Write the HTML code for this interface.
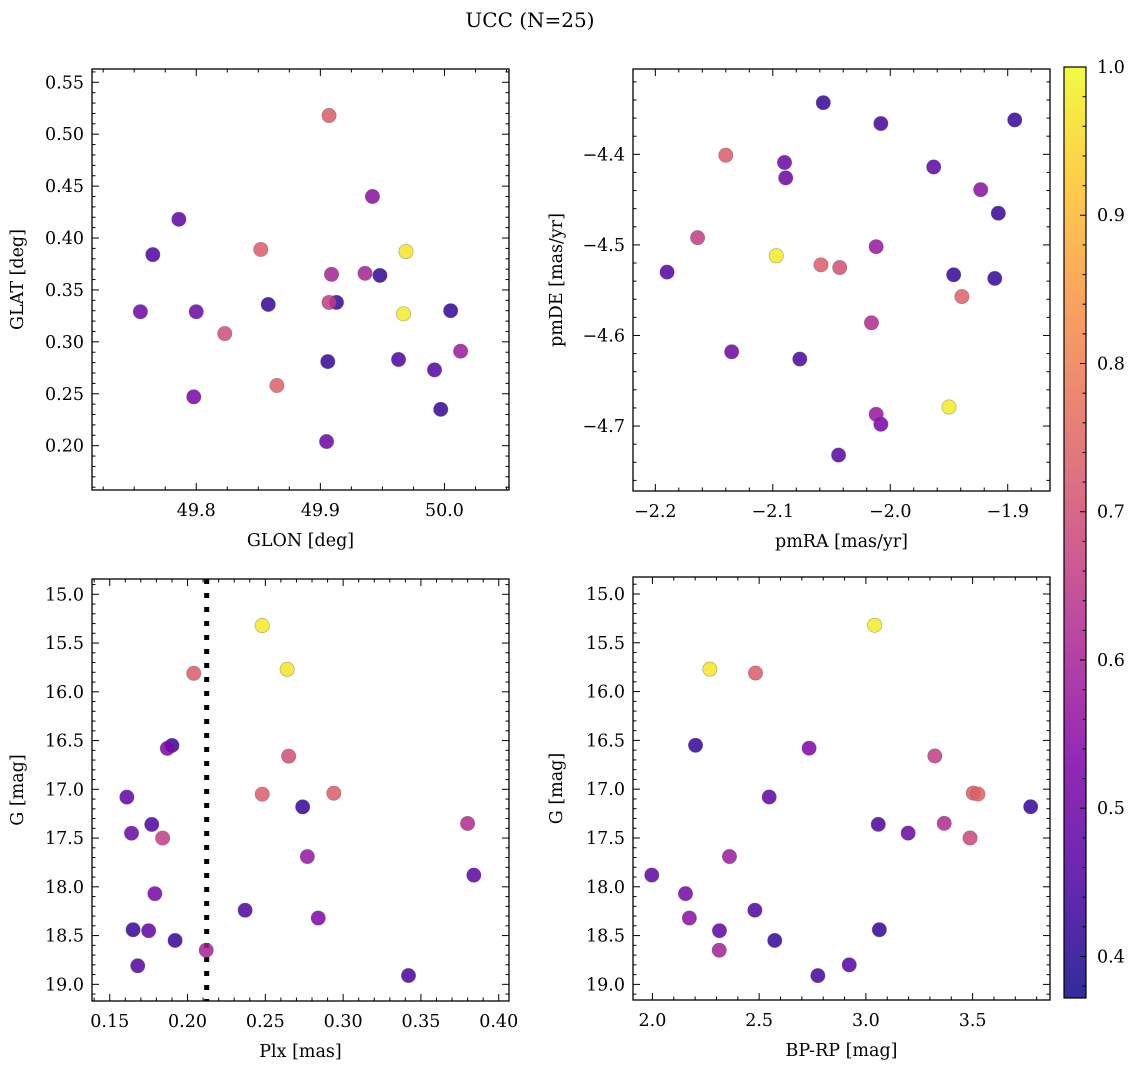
<!DOCTYPE html>
<html><head><meta charset="utf-8"><style>
html,body{margin:0;padding:0;background:#fff;}
svg text{font-family:"DejaVu Serif","Liberation Serif",serif;fill:#000;}
</style></head><body>
<svg id="fig" width="1136" height="1067" viewBox="0 0 1136 1067" xmlns="http://www.w3.org/2000/svg">
<defs>
<linearGradient id="plasma" x1="0" y1="1" x2="0" y2="0">
<stop offset="0" stop-color="#0d0887"/><stop offset="0.125" stop-color="#4c02a1"/><stop offset="0.25" stop-color="#7e03a8"/><stop offset="0.375" stop-color="#a92395"/><stop offset="0.5" stop-color="#cc4778"/><stop offset="0.625" stop-color="#e56b5d"/><stop offset="0.75" stop-color="#f89441"/><stop offset="0.875" stop-color="#fdc328"/><stop offset="1" stop-color="#f0f921"/>
</linearGradient>
</defs>
<text x="530" y="27" font-size="20" text-anchor="middle">UCC (N=25)</text>
</svg>
<script>
// membership probability (colour) per point
const probTL = [0.50,0.45,0.48,0.50,0.52,0.70,0.73,0.42,0.74,0.73,0.50,0.42,0.66,0.60,0.42,0.60,0.55,0.42,0.45,0.98,0.97,0.46,0.42,0.42,0.58];
const glon = [49.755,49.765,49.786,49.800,49.798,49.823,49.852,49.858,49.865,49.907,49.905,49.906,49.907,49.909,49.913,49.936,49.942,49.948,49.963,49.967,49.969,49.992,49.997,50.005,50.013];
const glat = [0.329,0.384,0.418,0.329,0.247,0.308,0.389,0.336,0.258,0.518,0.204,0.281,0.338,0.365,0.338,0.366,0.440,0.364,0.283,0.327,0.387,0.273,0.235,0.330,0.291];

const probTR = [0.46,0.66,0.73,0.98,0.50,0.50,0.50,0.45,0.42,0.73,0.70,0.47,0.62,0.57,0.57,0.52,0.44,0.48,0.98,0.42,0.74,0.55,0.42,0.42,0.42];
const pmra = [-2.190,-2.164,-2.140,-2.097,-2.090,-2.089,-2.135,-2.077,-2.057,-2.059,-2.043,-2.044,-2.016,-2.012,-2.012,-2.008,-2.008,-1.963,-1.950,-1.946,-1.939,-1.923,-1.911,-1.908,-1.894];
const pmde = [-4.530,-4.492,-4.401,-4.512,-4.409,-4.426,-4.618,-4.626,-4.343,-4.522,-4.525,-4.732,-4.586,-4.502,-4.687,-4.698,-4.366,-4.414,-4.679,-4.533,-4.557,-4.439,-4.537,-4.465,-4.362];

const probBL = [0.48,0.50,0.42,0.46,0.48,0.45,0.52,0.66,0.53,0.42,0.42,0.73,0.60,0.45,0.98,0.73,0.97,0.70,0.42,0.57,0.53,0.73,0.44,0.62,0.48];
const plx = [0.161,0.164,0.165,0.168,0.175,0.177,0.179,0.184,0.187,0.190,0.192,0.204,0.212,0.237,0.248,0.248,0.264,0.265,0.274,0.277,0.284,0.294,0.342,0.380,0.384];
const gBL = [17.08,17.45,18.44,18.81,18.45,17.36,18.07,17.50,16.58,16.55,18.55,15.81,18.65,18.24,15.32,17.05,15.77,16.66,17.18,17.69,18.32,17.04,18.91,17.35,17.88];

const probBR = [0.48,0.52,0.55,0.42,0.97,0.48,0.60,0.58,0.73,0.45,0.48,0.42,0.53,0.44,0.46,0.98,0.45,0.42,0.50,0.66,0.62,0.68,0.73,0.74,0.42];
const bprp = [1.997,2.155,2.173,2.202,2.269,2.314,2.313,2.361,2.483,2.480,2.547,2.573,2.734,2.775,2.922,3.041,3.058,3.063,3.198,3.323,3.367,3.488,3.503,3.525,3.772];
const gBR = [17.88,18.07,18.32,16.55,15.77,18.45,18.65,17.69,15.81,18.24,17.08,18.55,16.58,18.91,18.80,15.32,17.36,18.44,17.45,16.66,17.35,17.50,17.04,17.05,17.18];

const plxCut = [0.2123];
const cbarTicks = [0.4,0.5,0.6,0.7,0.8,0.9,1.0];

const NS='http://www.w3.org/2000/svg';
const svg=document.getElementById('fig');
function el(tag,attrs,parent){const e=document.createElementNS(NS,tag);for(const k in attrs)e.setAttribute(k,attrs[k]);(parent||svg).appendChild(e);return e;}
const stops=[[13,8,135],[76,2,161],[126,3,168],[169,35,149],[204,71,120],[229,107,93],[248,148,65],[253,195,40],[240,249,33]];
const vmin=0.372,vmax=1.0;
function plasma(v){let t=(v-vmin)/(vmax-vmin);t=Math.max(0,Math.min(1,t));const s=t*8;const i=Math.min(7,Math.floor(s));const f=s-i;const a=stops[i],b=stops[i+1];return 'rgb('+[0,1,2].map(k=>Math.round(a[k]+(b[k]-a[k])*f)).join(',')+')';}
function fmt(v,d){const s=Math.abs(v).toFixed(d);return (v<-1e-9?'\u2212':'')+s;}
const TFS=17.5, LFS=17.5;

function panel(o){
  const g=el('g',{});
  
  
  const X=v=>o.L+(v-o.xl[0])/(o.xl[1]-o.xl[0])*(o.R-o.L);
  const Y=o.yinv?(v=>o.T+(v-o.yl[0])/(o.yl[1]-o.yl[0])*(o.B-o.T)):(v=>o.B-(v-o.yl[0])/(o.yl[1]-o.yl[0])*(o.B-o.T));
  const tg=el('g',{stroke:'#000','stroke-width':1},g);
  
  
  const lo=Math.min(o.xl[0],o.xl[1]),hi=Math.max(o.xl[0],o.xl[1]);
  for(let k=Math.ceil(lo/o.xmin-1e-6);k*o.xmin<=hi+1e-9;k++){const v=k*o.xmin;const x=X(v);const maj=Math.abs(v/o.xmaj-Math.round(v/o.xmaj))<1e-4;const len=maj?7:3.5;
    el('line',{x1:x,x2:x,y1:o.B,y2:o.B-len},tg);el('line',{x1:x,x2:x,y1:o.T,y2:o.T+len},tg);
    if(maj){const t=el('text',{x:x,y:o.B+26,'font-size':TFS,'text-anchor':'middle'},g);t.textContent=fmt(v,o.xd);}}
  const ylo=Math.min(o.yl[0],o.yl[1]),yhi=Math.max(o.yl[0],o.yl[1]);
  for(let k=Math.ceil(ylo/o.ymin-1e-6);k*o.ymin<=yhi+1e-9;k++){const v=k*o.ymin;const y=Y(v);const maj=Math.abs(v/o.ymaj-Math.round(v/o.ymaj))<1e-4;const len=maj?7:3.5;
    el('line',{x1:o.L,x2:o.L+len,y1:y,y2:y},tg);el('line',{x1:o.R,x2:o.R-len,y1:y,y2:y},tg);
    if(maj){const t=el('text',{x:o.L-8,y:y+6,'font-size':TFS,'text-anchor':'end'},g);t.textContent=fmt(v,o.yd);}}
  if(o.vline){o.vline.forEach(v=>{const l=el('line',{x1:X(v),x2:X(v),y1:o.T,y2:o.B,stroke:'#000','stroke-width':5,'stroke-dasharray':'5 9'},g);});}
  const idx=o.c.map((c,i)=>i).sort((a,b)=>o.c[a]-o.c[b]);
  idx.forEach(i=>{const c=el('circle',{cx:X(o.x[i]),cy:Y(o.y[i]),r:7.2,fill:plasma(o.c[i]),'fill-opacity':0.85,stroke:'#555','stroke-opacity':0.5,'stroke-width':0.6},g);
    
    });
  const fr=el('rect',{x:o.L,y:o.T,width:o.R-o.L,height:o.B-o.T,fill:'none',stroke:'#000','stroke-width':1.3},g);
  
  const xt=el('text',{x:(o.L+o.R)/2,y:o.B+56,'font-size':LFS,'text-anchor':'middle'},g);xt.textContent=o.xlab;
  
  const cy=(o.T+o.B)/2;const yt=el('text',{x:o.ylx,y:cy,'font-size':LFS,'text-anchor':'middle',transform:'rotate(-90 '+o.ylx+' '+cy+')'},g);yt.textContent=o.ylab;
  
}

panel({name:'glon-glat-panel',L:92,R:509,T:69,B:490,xl:[49.716,50.052],yl:[0.1573,0.5628],xmaj:0.1,xmin:0.025,ymaj:0.05,ymin:0.01,xd:1,yd:2,x:glon,y:glat,c:probTL,xlab:'GLON [deg]',ylab:'GLAT [deg]',ylx:23});
panel({name:'pm-panel',L:633,R:1050,T:69,B:491,xl:[-2.219,-1.864],yl:[-4.7717,-4.3058],xmaj:0.1,xmin:0.02,ymaj:0.1,ymin:0.02,xd:1,yd:1,x:pmra,y:pmde,c:probTR,xlab:'pmRA [mas/yr]',ylab:'pmDE [mas/yr]',ylx:562});
panel({name:'plx-g-panel',L:92,R:509,T:579,B:1001,xl:[0.1386,0.4066],yl:[14.843,19.171],yinv:true,xmaj:0.05,xmin:0.01,ymaj:0.5,ymin:0.1,xd:2,yd:1,x:plx,y:gBL,c:probBL,xlab:'Plx [mas]',ylab:'G [mag]',ylx:23,vline:plxCut});
panel({name:'cmd-panel',L:633,R:1050,T:577,B:1000,xl:[1.909,3.8625],yl:[14.826,19.16],yinv:true,xmaj:0.5,xmin:0.1,ymaj:0.5,ymin:0.1,xd:1,yd:1,x:bprp,y:gBR,c:probBR,xlab:'BP-RP [mag]',ylab:'G [mag]',ylx:562});

// colorbar
const cb=el('g',{});


const cT=67,cB=998,cL=1064,cR=1086;
const CY=v=>cB-(v-vmin)/(vmax-vmin)*(cB-cT);
el('rect',{x:cL,y:cT,width:cR-cL,height:cB-cT,fill:'url(#plasma)','fill-opacity':0.85},cb);
for(let k=19;k<=50;k++){const v=k*0.02;if(v<vmin)continue;const y=CY(v);const maj=Math.abs(v*10-Math.round(v*10))<1e-4;
  el('line',{x1:cR,x2:cR-(maj?6:3.5),y1:y,y2:y,stroke:'#000','stroke-width':1},cb);}
cbarTicks.forEach(v=>{const t=el('text',{x:cR+11,y:CY(v)+6,'font-size':TFS},cb);t.textContent=v.toFixed(1);
  
  });
el('rect',{x:cL,y:cT,width:cR-cL,height:cB-cT,fill:'none',stroke:'#000','stroke-width':1.2},cb);
</script>
</body></html>
